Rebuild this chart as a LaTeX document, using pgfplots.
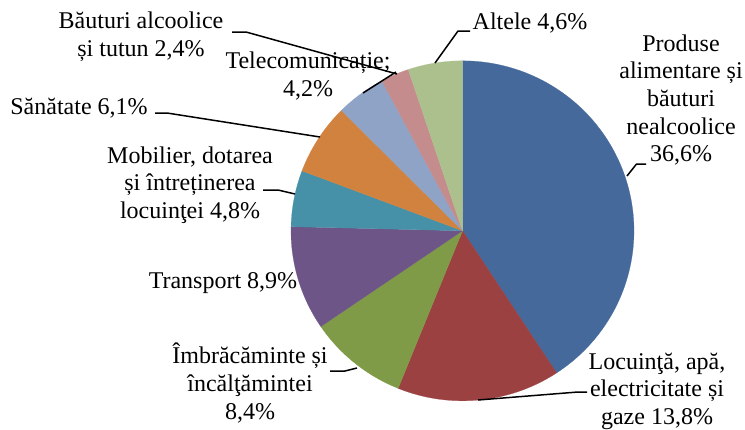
\documentclass[border=0pt]{standalone}
\usepackage{pgfplots}
\usepackage{pgfplotstable}
\pgfplotsset{compat=1.18}
\usepackage{fontspec}
\setmainfont{Liberation Serif}

\definecolor{c0}{RGB}{69,105,155}
\definecolor{c1}{RGB}{155,65,65}
\definecolor{c2}{RGB}{128,155,72}
\definecolor{c3}{RGB}{110,85,135}
\definecolor{c4}{RGB}{70,145,168}
\definecolor{c5}{RGB}{208,130,62}
\definecolor{c6}{RGB}{142,163,198}
\definecolor{c7}{RGB}{196,140,140}
\definecolor{c8}{RGB}{172,192,142}

\newcommand\lf{\fontsize{24bp}{27.6bp}\selectfont}

\pgfplotstableread{
value
36.6
13.8
8.4
8.9
4.8
6.1
4.2
2.4
4.6
}\piedata

\gdef\pietotal{0}
\foreach \i in {0,...,8}{%
  \pgfplotstablegetelem{\i}{value}\of\piedata
  \pgfmathsetmacro\tmp{\pietotal+\pgfplotsretval}%
  \xdef\pietotal{\tmp}%
}
\gdef\piecum{0}
\foreach \i in {0,...,8}{%
  \pgfplotstablegetelem{\i}{value}\of\piedata
  \pgfmathsetmacro\pfa{\piecum/\pietotal}%
  \pgfmathsetmacro\pa{90-360*\pfa}%
  \pgfmathsetmacro\pc{\piecum+\pgfplotsretval}%
  \pgfmathsetmacro\pfb{\pc/\pietotal}%
  \pgfmathsetmacro\pb{90-360*\pfb}%
  \expandafter\xdef\csname pieA\i\endcsname{\pa}%
  \expandafter\xdef\csname pieB\i\endcsname{\pb}%
  \xdef\piecum{\pc}%
}

\begin{document}
\begin{tikzpicture}
\begin{axis}[
  at={(0,0)}, anchor=south west,
  scale only axis, width=745bp, height=430bp,
  xmin=0, xmax=745, ymin=0, ymax=430,
  y dir=reverse,
  hide axis, clip=false,
]
\pgfplotsinvokeforeach{0,...,8}{
  \addplot[fill=c#1, draw=c#1, line width=0.2pt,
    domain=\csname pieB#1\endcsname:\csname pieA#1\endcsname,
    samples=90, variable=\t]
    ({462.5+171.5*cos(\t)}, {230.8-170*sin(\t)}) -- (axis cs:462.5,230.8) -- cycle;
}
% leader lines
\pgfplotsset{every axis plot/.append style={line join=round}}
\addplot[black, line width=1.5bp] coordinates {(627,176) (636.5,164) (646,164)};
\addplot[black, line width=1.5bp] coordinates {(478,400) (578,392) (587,392)};
\addplot[black, line width=1.5bp] coordinates {(357,368) (345,371) (330,371)};
\addplot[black, line width=1.5bp] coordinates {(295,194) (278,190) (263,190)};
\addplot[black, line width=1.5bp] coordinates {(320,137) (167,113) (155,113)};
\addplot[black, line width=1.5bp] coordinates {(363,93) (396,72)};
\addplot[black, line width=1.5bp] coordinates {(232,32) (246,32) (397,74)};
\addplot[black, line width=1.5bp] coordinates {(435,63) (458,31) (470,31)};
% labels
\begin{scope}[every node/.style={font=\lf, align=center, inner sep=0pt}]
\node at (axis cs:681,100) {Produse\\alimentare și\\băuturi\\nealcoolice\\36,6\%};
\node at (axis cs:657,391) {Locuinţă, apă,\\electricitate și\\gaze 13,8\%};
\node at (axis cs:250,383) {Îmbrăcăminte și\\încălţămintei\\8,4\%};
\node at (axis cs:223,283) {Transport 8,9\%};
\node at (axis cs:190,185) {Mobilier, dotarea\\și întreținerea\\locuinţei 4,8\%};
\node at (axis cs:79,108) {Sănătate 6,1\%};
\node at (axis cs:141,37) {Băuturi alcoolice\\și tutun 2,4\%};
\node at (axis cs:308,76) {Telecomunicație;\\4,2\%};
\node at (axis cs:530,23) {Altele 4,6\%};
\end{scope}
\end{axis}
\pgfresetboundingbox
\useasboundingbox (0,0) rectangle (745bp,430bp);
\end{tikzpicture}
\end{document}
